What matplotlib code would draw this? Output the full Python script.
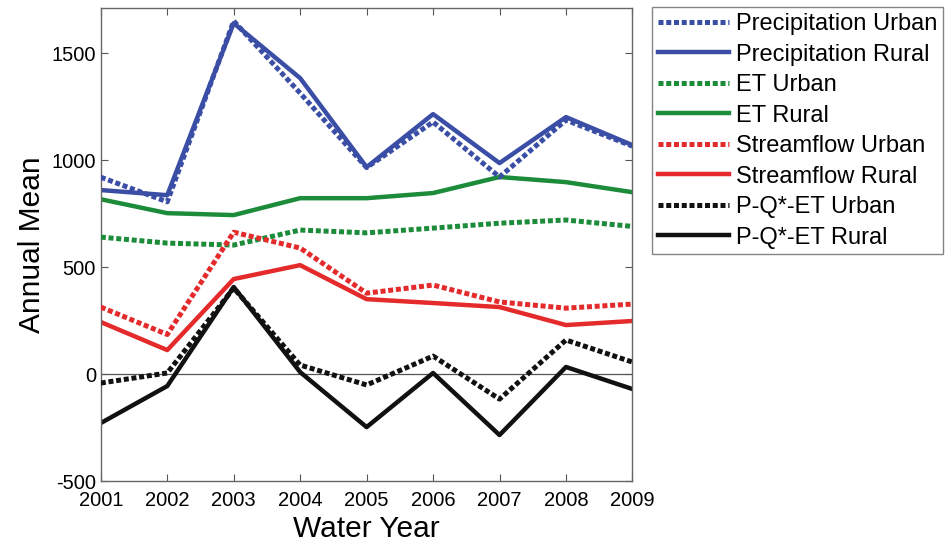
import matplotlib
matplotlib.use("Agg")
import matplotlib.pyplot as plt

plt.rcParams['font.family'] = ['Liberation Sans', 'DejaVu Sans']
plt.rcParams['axes.unicode_minus'] = False

years = [2001, 2002, 2003, 2004, 2005, 2006, 2007, 2008, 2009]
precip_urban = [920, 805, 1650, 1313, 965, 1178, 921, 1187, 1065]
precip_rural = [860, 836, 1640, 1383, 967, 1215, 986, 1201, 1070]
et_urban = [640, 612, 603, 673, 660, 682, 705, 720, 690]
et_rural = [817, 752, 743, 822, 822, 846, 921, 897, 850]
flow_urban = [313, 185, 663, 589, 378, 416, 337, 308, 327]
flow_rural = [243, 112, 444, 509, 350, 332, 313, 229, 248]
pqet_urban = [-42, 5, 402, 42, -51, 84, -117, 159, 56]
pqet_rural = [-229, -56, 407, 9, -248, 5, -285, 33, -70]

labels = ['Precipitation Urban', 'Precipitation Rural', 'ET Urban', 'ET Rural',
          'Streamflow Urban', 'Streamflow Rural', 'P-Q*-ET Urban', 'P-Q*-ET Rural']
series = [precip_urban, precip_rural, et_urban, et_rural,
          flow_urban, flow_rural, pqet_urban, pqet_rural]
colors = ['#3b4ea6', '#3b4ea6', '#1c8c3a', '#1c8c3a',
          '#e42a2a', '#e42a2a', '#111111', '#111111']

fig = plt.figure(figsize=(9.51, 5.46), dpi=100)
ax = fig.add_axes([0.106, 0.119, 0.559, 0.866])

ax.axhline(0, color='#555555', lw=0.9, zorder=1)

handles = []
for lab, vals, c in zip(labels, series, colors):
    if 'Urban' in lab:
        h, = ax.plot(years, vals, color=c, lw=3.6, linestyle=(0, (1.0, 0.55)),
                     label=lab, zorder=3)
    else:
        h, = ax.plot(years, vals, color=c, lw=3.2, linestyle='-',
                     label=lab, zorder=2)
    handles.append(h)

ax.set_xlim(2001, 2009)
ax.set_ylim(-500, 1710)
ax.set_xticks(years)
ax.set_yticks([-500, 0, 500, 1000, 1500])
ax.tick_params(direction='in', top=True, right=True, labelsize=14.5, length=5,
               color='#555555')
ax.tick_params(axis='x', pad=7)
for s in ax.spines.values():
    s.set_color('#666666')
    s.set_linewidth(1.0)
ax.set_xlabel('Water Year', fontsize=21.5, labelpad=4)
ax.set_ylabel('Annual Mean', fontsize=21.5, labelpad=4)

leg = fig.legend(handles=handles, labels=labels, loc='upper left',
                 bbox_to_anchor=(0.686, 0.987), fontsize=17, frameon=True,
                 fancybox=False, edgecolor='#666666', handlelength=3.0,
                 handletextpad=0.3, labelspacing=0.36, borderpad=0.25,
                 borderaxespad=0)
leg.get_frame().set_linewidth(1.0)

fig.savefig('out.png', dpi=100)
